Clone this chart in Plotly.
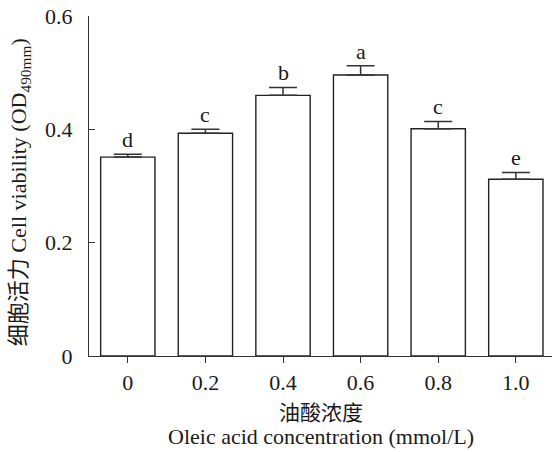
import plotly.graph_objects as go

categories = ["0", "0.2", "0.4", "0.6", "0.8", "1.0"]
values = [0.351, 0.393, 0.460, 0.496, 0.401, 0.312]
errors = [0.005, 0.007, 0.014, 0.016, 0.013, 0.012]
letters = ["d", "c", "b", "a", "c", "e"]
y_ticks = [0, 0.2, 0.4, 0.6]
y_ticktext = ["0", "0.2", "0.4", "0.6"]

FONT = "Liberation Serif, Times New Roman, Noto Sans CJK SC, serif"
TXT = "#1a1a1a"
xs = list(range(len(categories)))

fig = go.Figure()
fig.add_trace(go.Bar(
    x=xs, y=values, width=0.7,
    marker=dict(color="white", line=dict(color="#222222", width=1.4)),
    error_y=dict(type="data", symmetric=False, array=errors,
                 arrayminus=[0] * len(errors), color="#333333",
                 thickness=1.5, width=14),
    showlegend=False, hoverinfo="skip",
))

for x, v, e, t in zip(xs, values, errors, letters):
    fig.add_annotation(x=x, y=v + e, text=t, showarrow=False,
                       yanchor="bottom", xanchor="center", yshift=0,
                       font=dict(family=FONT, size=22, color=TXT))

fig.add_annotation(x=-0.149, y=0.482, xref="paper", yref="paper",
                   text="细胞活力 Cell viability (OD<sub>490mm</sub>)",
                   textangle=-90, showarrow=False, xanchor="center", yanchor="middle",
                   font=dict(family=FONT, size=22, color=TXT))
fig.add_annotation(x=0.5, y=-0.168, xref="paper", yref="paper",
                   text="油酸浓度", showarrow=False, xanchor="center", yanchor="middle",
                   font=dict(family=FONT, size=21, color=TXT))
fig.add_annotation(x=0.5, y=-0.238, xref="paper", yref="paper",
                   text="Oleic acid concentration (mmol/L)", showarrow=False,
                   xanchor="center", yanchor="middle",
                   font=dict(family=FONT, size=22, color=TXT))

fig.update_layout(
    width=552, height=452,
    margin=dict(l=89, r=0, t=16, b=96),
    plot_bgcolor="white", paper_bgcolor="white",
    font=dict(family=FONT, size=22, color=TXT),
    xaxis=dict(range=[-0.5, 5.466], tickvals=xs, ticktext=categories,
               showgrid=False, zeroline=False, showline=True,
               linecolor="#333333", linewidth=1.4,
               ticks="outside", ticklen=6, tickwidth=1.4, tickcolor="#333333",
               tickfont=dict(family=FONT, size=22, color=TXT)),
    yaxis=dict(range=[0, 0.6], tickvals=y_ticks, ticktext=y_ticktext,
               showgrid=False, zeroline=False, showline=True,
               linecolor="#333333", linewidth=1.4,
               ticks="inside", ticklen=6, tickwidth=1.4, tickcolor="#333333",
               ticklabelstandoff=11,
               tickfont=dict(family=FONT, size=22, color=TXT)),
)

fig.write_html("out.html", config={"displayModeBar": False},
               post_script="document.body.style.margin='0';document.body.style.overflow='hidden';")
